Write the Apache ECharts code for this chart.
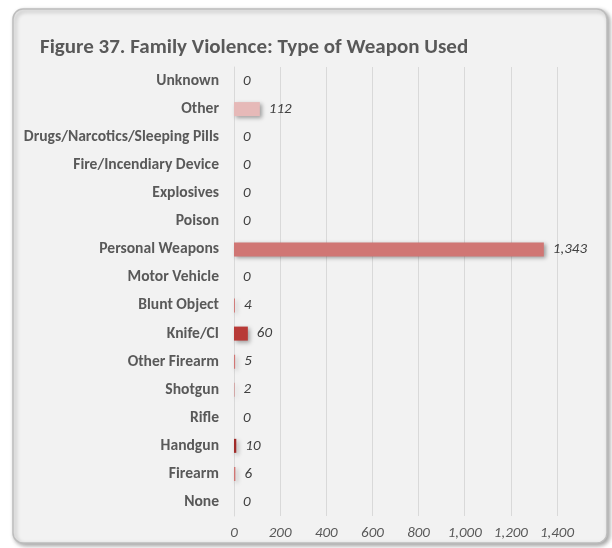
<!DOCTYPE html>
<html>
<head>
<meta charset="utf-8">
<script src="https://cdn.jsdelivr.net/npm/echarts@6/dist/echarts.min.js"></script>
<style>html,body{margin:0;padding:0;background:#fff;}#c{width:612px;height:548px;}</style>
</head>
<body>
<div id="c"></div>
<script>
const titleText = "Figure 37. Family Violence: Type of Weapon Used";
const categories = ["Unknown","Other","Drugs/Narcotics/Sleeping Pills","Fire/Incendiary Device","Explosives","Poison","Personal Weapons","Motor Vehicle","Blunt Object","Knife/CI","Other Firearm","Shotgun","Rifle","Handgun","Firearm","None"];
const values = [0,112,0,0,0,0,1343,0,4,60,5,2,0,10,6,0];
const barColors = ["#c0504d","#e6b9b8","#c0504d","#c0504d","#c0504d","#c0504d","#d07674","#c0504d","#d07674","#b83a37","#d07674","#d07674","#c0504d","#a02b29","#d07674","#c0504d"];
const xTicks = [0,200,400,600,800,1000,1200,1400];

const chart = echarts.init(document.getElementById('c'), null, {renderer:'canvas'});
const font = "Calibri, Carlito, Lato, 'Liberation Sans', sans-serif";
chart.setOption({
  backgroundColor: '#ffffff',
  animation: false,
  graphic: [{
    type: 'rect', z: -10, silent: true,
    shape: {x: 13, y: 9, width: 594, height: 534, r: 10},
    style: {fill: '#f2f2f2', stroke: '#bdbdbd', lineWidth: 1.5, shadowBlur: 4, shadowColor: 'rgba(0,0,0,0.35)', shadowOffsetX: 2, shadowOffsetY: 2}
  }],
  title: {
    text: titleText, left: 35, top: 32,
    textStyle: {fontFamily: font, fontSize: 21, fontWeight: 'bold', color: '#595959'}
  },
  grid: {left: 234, right: 55, top: 67, bottom: 32, containLabel: false},
  xAxis: {
    type: 'value', min: 0, max: 1400, interval: 200,
    axisLine: {show: false}, axisTick: {show: false},
    splitLine: {show: true, lineStyle: {color: '#d9d9d9', width: 1}},
    axisLabel: {
      fontFamily: font, fontSize: 15, fontStyle: 'italic', fontWeight: 'normal', color: '#595959', margin: 10,
      formatter: v => xTicks.includes(v) ? v.toLocaleString('en-US') : ''
    }
  },
  yAxis: {
    type: 'category', data: categories, inverse: true,
    axisLine: {show: true, lineStyle: {color: '#d9d9d9'}}, axisTick: {show: false},
    axisLabel: {fontFamily: font, fontSize: 15.6, fontWeight: 'bold', color: '#595959', margin: 15}
  },
  series: [{
    type: 'bar',
    data: values.map((v, i) => ({value: v, itemStyle: {color: barColors[i]}})),
    barWidth: 14,
    itemStyle: {shadowBlur: 4, shadowColor: 'rgba(0,0,0,0.35)', shadowOffsetX: 2, shadowOffsetY: 2},
    label: {
      show: true, position: 'right', distance: 9,
      fontFamily: font, fontSize: 15, fontStyle: 'italic', color: '#404040',
      formatter: p => p.value.toLocaleString('en-US')
    }
  }]
});
</script>
</body>
</html>
